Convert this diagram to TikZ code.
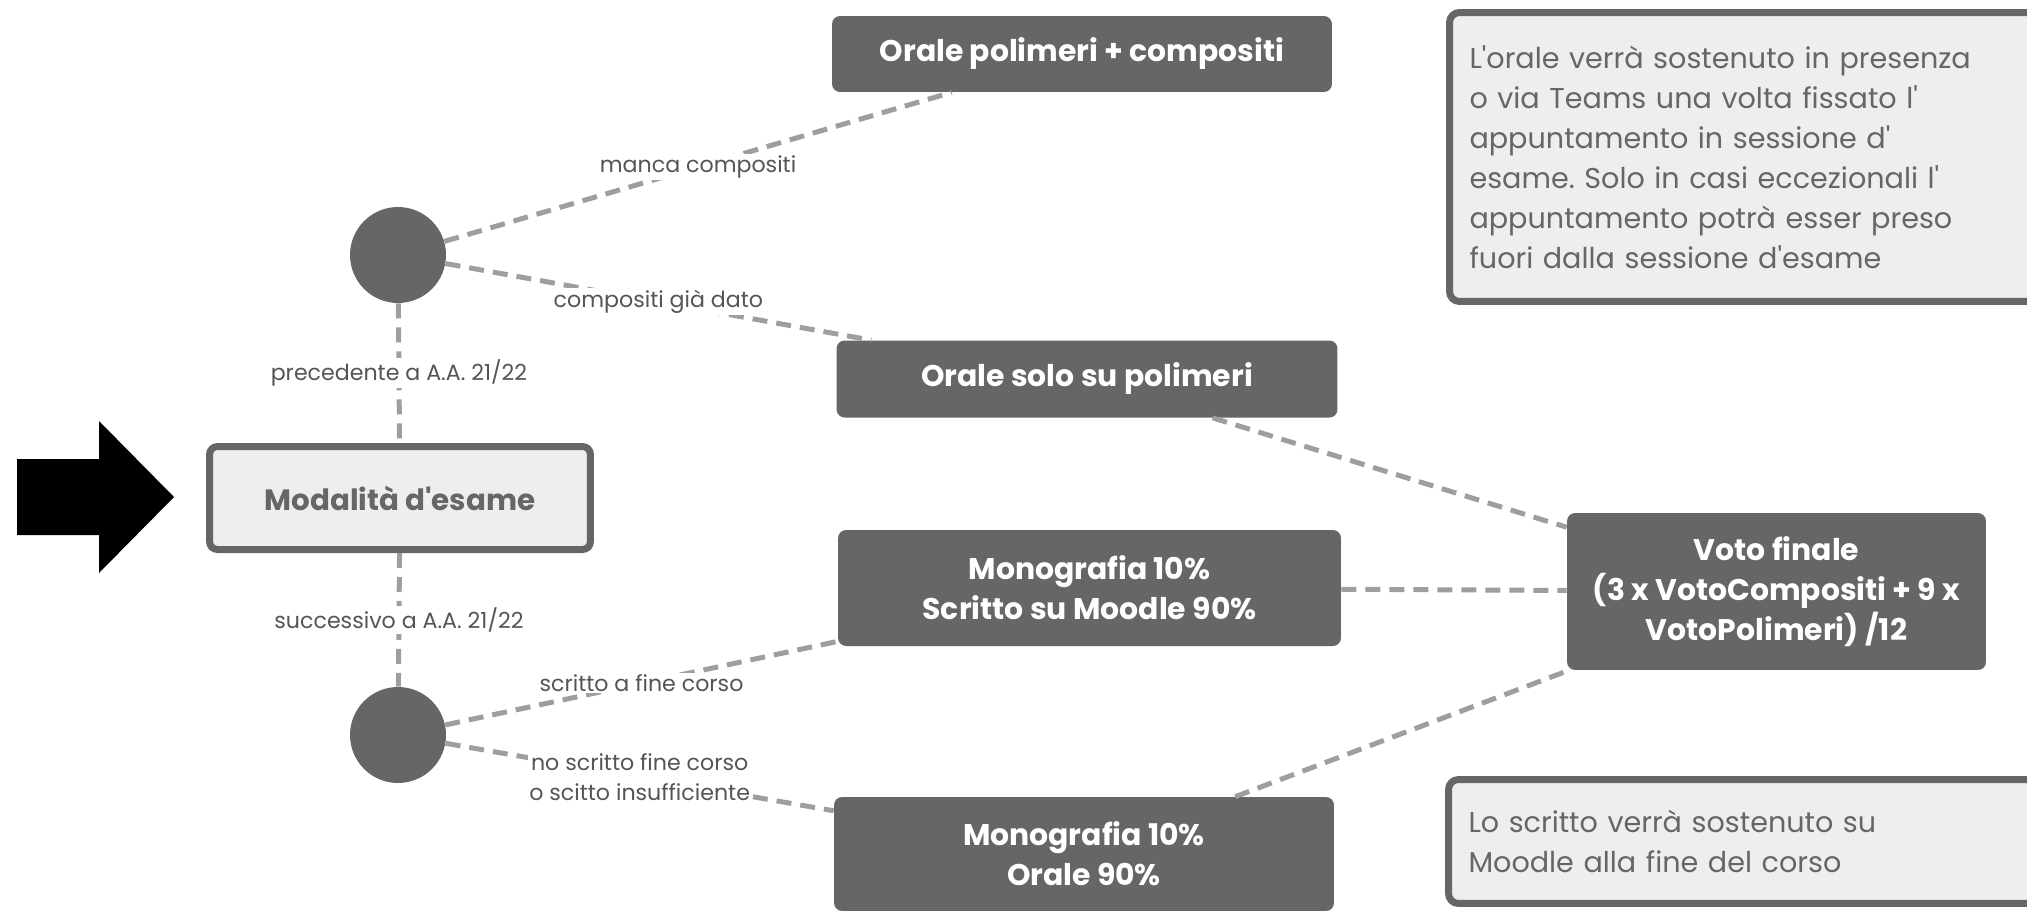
\documentclass[tikz,border=0pt]{standalone}
\usepackage{fontspec}
\setmainfont{Poppins}
\usetikzlibrary{positioning}
\frenchspacing

\definecolor{boxgray}{HTML}{666666}
\definecolor{notefill}{HTML}{EEEEEE}
\definecolor{linkgray}{HTML}{9E9E9E}
\definecolor{labelgray}{HTML}{555555}
\newcommand{\ap}{\textquotesingle}

\tikzset{
  darkbox/.style={fill=boxgray, rounded corners=0.16cm, text=white, align=center,
    font=\fontsize{17}{22.8}\selectfont\bfseries},
  notebox/.style={draw=boxgray, line width=0.14cm, fill=notefill, rounded corners=0.2cm,
    text=boxgray, align=left, inner xsep=0.4cm, font=\fontsize{16.3}{22.8}\selectfont},
  choice/.style={circle, fill=boxgray, minimum size=1.92cm, inner sep=0pt},
  link/.style={draw=linkgray, line width=0.1cm, dash pattern=on 0.3cm off 0.18cm},
  linklabel/.style={fill=white, text=labelgray, inner sep=1pt, align=center,
    font=\fontsize{12.6}{17}\selectfont},
}

\begin{document}
\begin{tikzpicture}[x=0.02cm, y=-0.02cm]
    \useasboundingbox (0,0) rectangle (2027,910);

    % start arrow
    \fill[black] (17,459) -- (99,459) -- (99,421) -- (174,497) -- (99,573)
        -- (99,535) -- (17,535) -- cycle;

    \node[draw=boxgray, line width=0.14cm, fill=notefill, rounded corners=0.16cm,
        minimum width=7.62cm, minimum height=2.06cm, text=boxgray,
        font=\fontsize{16.7}{20}\selectfont\bfseries] (modal) at (400,498) {Modalità d\ap esame};

    \node[choice] (up) at (398,255) {};
    \node[choice] (down) at (398,735) {};

    \node[darkbox, minimum width=10cm, minimum height=1.52cm] (full) at (1082,54)
        {Orale polimeri + compositi};
    \node[darkbox, minimum width=10.02cm, minimum height=1.54cm] (poly) at (1087,379)
        {Orale solo su polimeri};
    \node[darkbox, minimum width=10.06cm, minimum height=2.32cm] (written) at (1089.5,588)
        {Monografia 10\%\\Scritto su Moodle 90\%};
    \node[darkbox, minimum width=10cm, minimum height=2.28cm] (oral) at (1084,854)
        {Monografia 10\%\\Orale 90\%};
    \node[darkbox, minimum width=8.38cm, minimum height=3.14cm] (grade) at (1776.5,591.5)
        {Voto finale\\(3 x VotoCompositi + 9 x\\VotoPolimeri) /12};

    \node[notebox, anchor=north west, text width=12cm, minimum height=5.78cm] (note1)
        at (1446,9)
        {L\ap orale verrà sostenuto in presenza\\o via Teams una volta fissato l\ap\\appuntamento in sessione d\ap\\esame. Solo in casi eccezionali l\ap\\appuntamento potrà esser preso\\fuori dalla sessione d\ap esame};
    \node[notebox, anchor=north west, text width=12cm, minimum height=2.48cm] (note2)
        at (1445,776)
        {Lo scritto verrà sostenuto su\\Moodle alla fine del corso};

    \draw[link] (up) -- (modal) node[midway, linklabel] {precedente a A.A. 21/22};
    \draw[link] (modal) -- (down) node[midway, linklabel] {successivo a A.A. 21/22};
    \draw[link] (up) -- (full) node[midway, linklabel] {manca compositi};
    \draw[link] (up) -- (poly) node[midway, linklabel] {compositi già dato};
    \draw[link] (down) -- (written) node[midway, linklabel] {scritto a fine corso};
    \draw[link] (down) -- (oral) node[midway, linklabel] {no scritto fine corso\\o scitto insufficiente};

    \draw[link] (poly) -- (grade);
    \draw[link] (written) -- (grade);
    \draw[link] (oral) -- (grade);
\end{tikzpicture}
\end{document}
